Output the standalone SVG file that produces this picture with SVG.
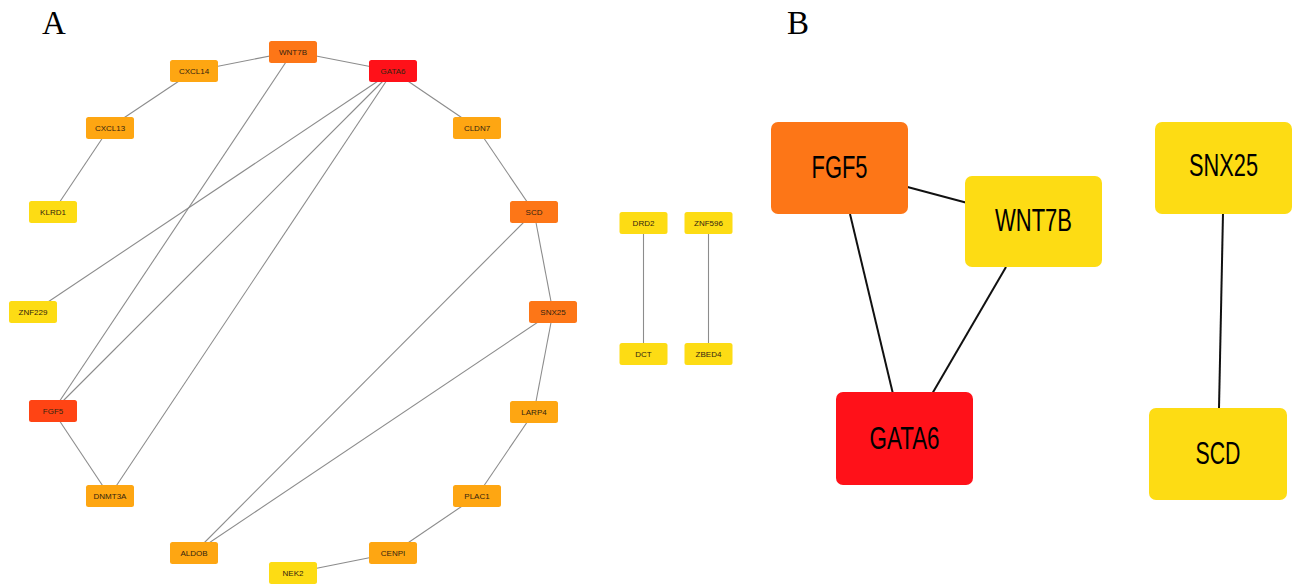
<svg xmlns="http://www.w3.org/2000/svg" width="1302" height="584" viewBox="0 0 1302 584">
<style>
.panel{font-family:"Liberation Serif",serif;font-size:33px;fill:#000}
.ea line{stroke:#8c8c8c;stroke-width:1.1}
.eb line{stroke:#111;stroke-width:2}
.na rect{rx:2.5;ry:2.5;width:48px;height:22px}
.na text{font-family:"Liberation Sans",sans-serif;font-size:8px;fill:#332410;text-anchor:middle}
.nb rect{rx:7;ry:7}
.nb text{font-family:"Liberation Sans",sans-serif;font-size:32px;fill:#000;text-anchor:middle}
.red{fill:#ff1119}
.or1{fill:#ff4414}
.or2{fill:#fd7617}
.or3{fill:#fea612}
.yel{fill:#fddc14}
</style>
<rect width="1302" height="584" fill="#fff"/>
<text class="panel" x="54" y="34" text-anchor="middle">A</text>
<text class="panel" x="798" y="34" text-anchor="middle">B</text>

<g id="edges-a" class="ea">
<line x1="194" y1="71" x2="293" y2="51.5"/>
<line x1="194" y1="71" x2="109.5" y2="127.5"/>
<line x1="109.5" y1="127.5" x2="53" y2="212"/>
<line x1="293" y1="51.5" x2="393" y2="71"/>
<line x1="393" y1="71" x2="477" y2="128"/>
<line x1="477" y1="128" x2="534" y2="212"/>
<line x1="534" y1="212" x2="553" y2="312"/>
<line x1="534" y1="212" x2="194" y2="553"/>
<line x1="553" y1="312" x2="194" y2="553"/>
<line x1="553" y1="312" x2="534" y2="412"/>
<line x1="534" y1="412" x2="477" y2="496"/>
<line x1="477" y1="496" x2="393" y2="553"/>
<line x1="393" y1="553" x2="293" y2="573"/>
<line x1="293" y1="51.5" x2="53" y2="411"/>
<line x1="393" y1="71" x2="33" y2="312"/>
<line x1="393" y1="71" x2="53" y2="411"/>
<line x1="393" y1="71" x2="109.5" y2="496"/>
<line x1="53" y1="411" x2="109.5" y2="496"/>
<line x1="643.5" y1="223" x2="643.5" y2="354"/>
<line x1="708.5" y1="223" x2="708.5" y2="354"/>
</g>

<g id="edges-b" class="eb">
<line x1="900" y1="185" x2="975" y2="205"/>
<line x1="850" y1="214" x2="893" y2="394"/>
<line x1="1006" y1="267" x2="932" y2="394"/>
<line x1="1223" y1="213" x2="1219" y2="409"/>
</g>

<g id="a-WNT7B" class="na"><rect class="or2" x="269" y="41"/><text x="293" y="54.8">WNT7B</text></g>
<g id="a-CXCL14" class="na"><rect class="or3" x="170" y="60"/><text x="194" y="73.8">CXCL14</text></g>
<g id="a-CXCL13" class="na"><rect class="or3" x="86" y="117"/><text x="110" y="130.8">CXCL13</text></g>
<g id="a-KLRD1" class="na"><rect class="yel" x="29" y="201"/><text x="53" y="214.8">KLRD1</text></g>
<g id="a-GATA6" class="na"><rect class="red" x="369" y="60"/><text x="393" y="73.8">GATA6</text></g>
<g id="a-CLDN7" class="na"><rect class="or3" x="453" y="117"/><text x="477" y="130.8">CLDN7</text></g>
<g id="a-SCD" class="na"><rect class="or2" x="510" y="201"/><text x="534" y="214.8">SCD</text></g>
<g id="a-ZNF229" class="na"><rect class="yel" x="9" y="301"/><text x="33" y="314.8">ZNF229</text></g>
<g id="a-SNX25" class="na"><rect class="or2" x="529" y="301"/><text x="553" y="314.8">SNX25</text></g>
<g id="a-FGF5" class="na"><rect class="or1" x="29" y="400"/><text x="53" y="413.8">FGF5</text></g>
<g id="a-LARP4" class="na"><rect class="or3" x="510" y="401"/><text x="534" y="414.8">LARP4</text></g>
<g id="a-DNMT3A" class="na"><rect class="or3" x="86" y="485"/><text x="110" y="498.8">DNMT3A</text></g>
<g id="a-PLAC1" class="na"><rect class="or3" x="453" y="485"/><text x="477" y="498.8">PLAC1</text></g>
<g id="a-ALDOB" class="na"><rect class="or3" x="170" y="542"/><text x="194" y="555.8">ALDOB</text></g>
<g id="a-CENPI" class="na"><rect class="or3" x="369" y="542"/><text x="393" y="555.8">CENPI</text></g>
<g id="a-NEK2" class="na"><rect class="yel" x="269" y="562"/><text x="293" y="575.8">NEK2</text></g>
<g id="a-DRD2" class="na"><rect class="yel" x="619.5" y="212"/><text x="643.5" y="225.8">DRD2</text></g>
<g id="a-ZNF596" class="na"><rect class="yel" x="684.5" y="212"/><text x="708.5" y="225.8">ZNF596</text></g>
<g id="a-DCT" class="na"><rect class="yel" x="619.5" y="343"/><text x="643.5" y="356.8">DCT</text></g>
<g id="a-ZBED4" class="na"><rect class="yel" x="684.5" y="343"/><text x="708.5" y="356.8">ZBED4</text></g>

<g id="b-FGF5" class="nb"><rect class="or2" x="771" y="122" width="137" height="92"/><text x="839.5" y="178" textLength="56" lengthAdjust="spacingAndGlyphs">FGF5</text></g>
<g id="b-WNT7B" class="nb"><rect class="yel" x="965" y="176" width="137" height="91"/><text x="1033.5" y="230.5" textLength="77" lengthAdjust="spacingAndGlyphs">WNT7B</text></g>
<g id="b-GATA6" class="nb"><rect class="red" x="836" y="392" width="137" height="93"/><text x="904.5" y="449" textLength="70" lengthAdjust="spacingAndGlyphs">GATA6</text></g>
<g id="b-SNX25" class="nb"><rect class="yel" x="1155" y="122" width="137" height="92"/><text x="1223.5" y="176" textLength="69" lengthAdjust="spacingAndGlyphs">SNX25</text></g>
<g id="b-SCD" class="nb"><rect class="yel" x="1149" y="408" width="138" height="92"/><text x="1218" y="464" textLength="45" lengthAdjust="spacingAndGlyphs">SCD</text></g>
</svg>
